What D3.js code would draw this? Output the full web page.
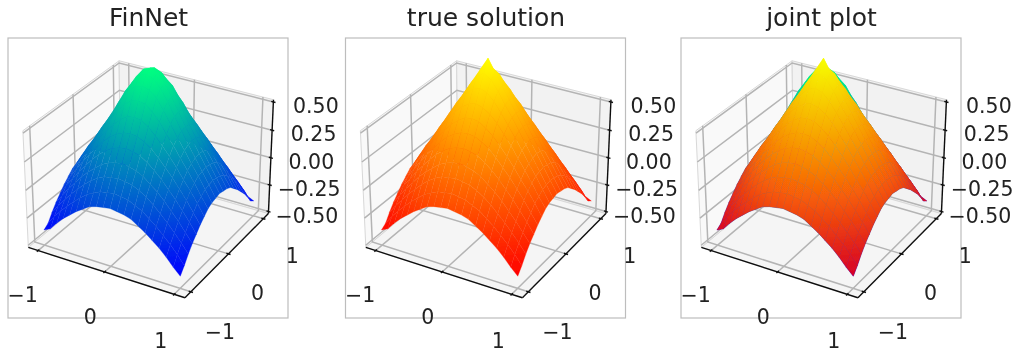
<!DOCTYPE html>
<html>
<head>
<meta charset="utf-8">
<script src="https://cdn.jsdelivr.net/npm/d3@7"></script>
<style>
  body { margin: 0; background: #fff; }
  text { font-family: "DejaVu Sans", sans-serif; fill: #222; }
</style>
</head>
<body>
<div id="chart"></div>
<script>
const gridX = [-1, -0.9, -0.8, -0.7, -0.6, -0.5, -0.4, -0.3, -0.2, -0.1, 0, 0.1, 0.2, 0.3, 0.4, 0.5, 0.6, 0.7, 0.8, 0.9, 1];
const gridY = [-1, -0.9, -0.8, -0.7, -0.6, -0.5, -0.4, -0.3, -0.2, -0.1, 0, 0.1, 0.2, 0.3, 0.4, 0.5, 0.6, 0.7, 0.8, 0.9, 1];

const trueZ = [
  [-.38,-.35,-.28,-.22,-.17,-.12,-.08,-.04,-.02,-.01,0,-.01,-.02,-.04,-.08,-.12,-.17,-.22,-.28,-.35,-.41],
  [-.35,-.27,-.20,-.14,-.08,-.03,.02,.05,.08,.09,.10,.09,.08,.05,.02,-.03,-.08,-.14,-.20,-.27,-.35],
  [-.28,-.20,-.13,-.06,0,.06,.11,.15,.18,.19,.20,.19,.18,.15,.11,.06,0,-.06,-.13,-.20,-.28],
  [-.22,-.14,-.06,.01,.08,.14,.19,.24,.27,.29,.30,.29,.27,.24,.19,.14,.08,.01,-.06,-.14,-.22],
  [-.17,-.08,0,.08,.15,.22,.28,.33,.37,.39,.40,.39,.37,.33,.28,.22,.15,.08,0,-.08,-.17],
  [-.12,-.03,.06,.14,.22,.29,.36,.42,.46,.49,.50,.49,.46,.42,.36,.29,.22,.14,.06,-.03,-.12],
  [-.08,.02,.11,.19,.28,.36,.43,.50,.55,.59,.60,.59,.55,.50,.43,.36,.28,.19,.11,.02,-.08],
  [-.04,.05,.15,.24,.33,.42,.50,.58,.64,.68,.70,.68,.64,.58,.50,.42,.33,.24,.15,.05,-.04],
  [-.02,.08,.18,.27,.37,.46,.55,.64,.72,.78,.80,.78,.72,.64,.55,.46,.37,.27,.18,.08,-.02],
  [-.01,.09,.19,.29,.39,.49,.59,.68,.78,.86,.90,.86,.78,.68,.59,.49,.39,.29,.19,.09,-.01],
  [0,.10,.20,.30,.40,.50,.60,.70,.80,.90,1,.90,.80,.70,.60,.50,.40,.30,.20,.10,0],
  [-.01,.09,.19,.29,.39,.49,.59,.68,.78,.86,.90,.86,.78,.68,.59,.49,.39,.29,.19,.09,-.01],
  [-.02,.08,.18,.27,.37,.46,.55,.64,.72,.78,.80,.78,.72,.64,.55,.46,.37,.27,.18,.08,-.02],
  [-.04,.05,.15,.24,.33,.42,.50,.58,.64,.68,.70,.68,.64,.58,.50,.42,.33,.24,.15,.05,-.04],
  [-.08,.02,.11,.19,.28,.36,.43,.50,.55,.59,.60,.59,.55,.50,.43,.36,.28,.19,.11,.02,-.08],
  [-.12,-.03,.06,.14,.22,.29,.36,.42,.46,.49,.50,.49,.46,.42,.36,.29,.22,.14,.06,-.03,-.12],
  [-.17,-.08,0,.08,.15,.22,.28,.33,.37,.39,.40,.39,.37,.33,.28,.22,.15,.08,0,-.08,-.17],
  [-.22,-.14,-.06,.01,.08,.14,.19,.24,.27,.29,.30,.29,.27,.24,.19,.14,.08,.01,-.06,-.14,-.22],
  [-.28,-.20,-.13,-.06,0,.06,.11,.15,.18,.19,.20,.19,.18,.15,.11,.06,0,-.06,-.13,-.20,-.28],
  [-.35,-.27,-.20,-.14,-.08,-.03,.02,.05,.08,.09,.10,.09,.08,.05,.02,-.03,-.08,-.14,-.20,-.27,-.35],
  [-.41,-.35,-.28,-.22,-.17,-.12,-.08,-.04,-.02,-.01,0,-.01,-.02,-.04,-.08,-.12,-.17,-.22,-.28,-.35,-.38]
];

// same as trueZ away from the centre, the network rounds the tip off
const finnetZ = [
  [-.38,-.35,-.28,-.22,-.17,-.12,-.08,-.04,-.02,-.01,0,-.01,-.02,-.04,-.08,-.12,-.17,-.22,-.28,-.35,-.41],
  [-.35,-.27,-.20,-.14,-.08,-.03,.02,.05,.08,.09,.10,.09,.08,.05,.02,-.03,-.08,-.14,-.20,-.27,-.35],
  [-.28,-.20,-.13,-.06,0,.06,.11,.15,.18,.19,.20,.19,.18,.15,.11,.06,0,-.06,-.13,-.20,-.28],
  [-.22,-.14,-.06,.01,.08,.14,.19,.24,.27,.29,.30,.29,.27,.24,.19,.14,.08,.01,-.06,-.14,-.22],
  [-.17,-.08,0,.08,.15,.22,.28,.33,.37,.39,.40,.39,.37,.33,.28,.22,.15,.08,0,-.08,-.17],
  [-.12,-.03,.06,.14,.22,.29,.36,.42,.46,.49,.50,.49,.46,.42,.36,.29,.22,.14,.06,-.03,-.12],
  [-.08,.02,.11,.19,.28,.36,.43,.50,.56,.60,.61,.60,.56,.50,.43,.36,.28,.19,.11,.02,-.08],
  [-.04,.05,.15,.24,.33,.42,.50,.59,.66,.71,.72,.71,.66,.59,.50,.42,.33,.24,.15,.05,-.04],
  [-.02,.08,.18,.27,.37,.46,.56,.66,.75,.80,.82,.80,.75,.66,.56,.46,.37,.27,.18,.08,-.02],
  [-.01,.09,.19,.29,.39,.49,.60,.71,.80,.87,.895,.87,.80,.71,.60,.49,.39,.29,.19,.09,-.01],
  [0,.10,.20,.30,.40,.50,.61,.72,.82,.895,.92,.895,.82,.72,.61,.50,.40,.30,.20,.10,0],
  [-.01,.09,.19,.29,.39,.49,.60,.71,.80,.87,.895,.87,.80,.71,.60,.49,.39,.29,.19,.09,-.01],
  [-.02,.08,.18,.27,.37,.46,.56,.66,.75,.80,.82,.80,.75,.66,.56,.46,.37,.27,.18,.08,-.02],
  [-.04,.05,.15,.24,.33,.42,.50,.59,.66,.71,.72,.71,.66,.59,.50,.42,.33,.24,.15,.05,-.04],
  [-.08,.02,.11,.19,.28,.36,.43,.50,.56,.60,.61,.60,.56,.50,.43,.36,.28,.19,.11,.02,-.08],
  [-.12,-.03,.06,.14,.22,.29,.36,.42,.46,.49,.50,.49,.46,.42,.36,.29,.22,.14,.06,-.03,-.12],
  [-.17,-.08,0,.08,.15,.22,.28,.33,.37,.39,.40,.39,.37,.33,.28,.22,.15,.08,0,-.08,-.17],
  [-.22,-.14,-.06,.01,.08,.14,.19,.24,.27,.29,.30,.29,.27,.24,.19,.14,.08,.01,-.06,-.14,-.22],
  [-.28,-.20,-.13,-.06,0,.06,.11,.15,.18,.19,.20,.19,.18,.15,.11,.06,0,-.06,-.13,-.20,-.28],
  [-.35,-.27,-.20,-.14,-.08,-.03,.02,.05,.08,.09,.10,.09,.08,.05,.02,-.03,-.08,-.14,-.20,-.27,-.35],
  [-.41,-.35,-.28,-.22,-.17,-.12,-.08,-.04,-.02,-.01,0,-.01,-.02,-.04,-.08,-.12,-.17,-.22,-.28,-.35,-.38]
];

const titles = ["FinNet", "true solution", "joint plot"];
const xyTicks = [-1, 0, 1];
const zTicks = [-0.5, -0.25, 0, 0.25, 0.5];

const svgWidth = 1022, svgHeight = 353;
const frameLeft = [8, 345.5, 681];
const frameTop = 38, frameSize = 280;

const xyLim = 1.15, zLim = 0.52;

// view matrix for elev 30, azim -60, camera 10 away
const dist = 10;
const viewU = [0.866, 0.5, 0];
const viewV = [-0.25, 0.433, 0.866];
const viewN = [0.433, -0.75, 0.5];

const worldXY = d3.scaleLinear().domain([-xyLim, xyLim]).range([-0.5715, 0.5715]);
const worldZ = d3.scaleLinear().domain([-zLim, zLim]).range([-0.4285, 0.4285]);

const dot = (a, b) => a[0] * b[0] + a[1] * b[1] + a[2] * b[2];

function project(x, y, z) {
  const p = [worldXY(x), worldXY(y), worldZ(z)];
  const depth = dot(p, viewN);
  const f = dist / (dist - depth);
  return { u: dot(p, viewU) * f, v: dot(p, viewV) * f, depth };
}

const winter = d3.scaleLinear().domain(d3.extent(finnetZ.flat())).range(["#0000ff", "#00ff80"]);
const autumn = d3.scaleLinear().domain(d3.extent(trueZ.flat())).range(["#ff0000", "#ffff00"]);

// joint plot: true surface over the network one, more of the blue comes through low down
const jointAlpha = d3.scaleLinear().domain([-0.41, 0.1]).range([0.84, 0.97]).clamp(true);
const jointColor = z => d3.interpolateRgb(winter(z), autumn(z))(jointAlpha(z));

const svg = d3.select("#chart").append("svg")
  .attr("width", svgWidth)
  .attr("height", svgHeight)
  .style("display", "block");

svg.append("defs").append("filter")
  .attr("id", "soft")
  .attr("filterUnits", "userSpaceOnUse")
  .attr("x", 0).attr("y", 0)
  .attr("width", svgWidth).attr("height", svgHeight)
  .append("feGaussianBlur")
  .attr("stdDeviation", 0.7);

const root = svg.append("g").attr("filter", "url(#soft)");

function buildCells(table, color) {
  const cells = [];
  for (let j = 0; j < gridY.length - 1; j++) {
    for (let i = 0; i < gridX.length - 1; i++) {
      const corners = [[i, j], [i + 1, j], [i + 1, j + 1], [i, j + 1]]
        .map(([a, b]) => [gridX[a], gridY[b], table[b][a]]);
      cells.push({
        corners,
        color,
        lo: d3.least(corners, c => c[2]),
        hi: d3.greatest(corners, c => c[2]),
        depth: d3.mean(corners, c => project(c[0], c[1], c[2]).depth)
      });
    }
  }
  return cells.sort((a, b) => a.depth - b.depth);
}

function drawPanel(index, layers) {
  const left = frameLeft[index];
  const cx = left + 142.5, cy = 173.8;
  const sx = d3.scaleLinear().domain([-1, 1]).range([cx - 157, cx + 157]);
  const sy = d3.scaleLinear().domain([-1, 1]).range([cy + 155.3, cy - 155.3]);

  const pt = (x, y, z) => {
    const p = project(x, y, z);
    return [sx(p.u), sy(p.v)];
  };
  const line = d3.line();

  const g = root.append("g");

  g.append("rect")
    .attr("x", left).attr("y", frameTop)
    .attr("width", frameSize).attr("height", frameSize)
    .attr("fill", "#fff")
    .attr("stroke", "#bdbdbd")
    .attr("stroke-width", 1.2);

  g.append("text")
    .attr("x", left + 140.5)
    .attr("y", 25.5)
    .attr("text-anchor", "middle")
    .style("font-size", "25px")
    .text(titles[index]);

  // panes
  const L = xyLim, Z = zLim;
  const panes = [
    { fill: "#f9f9f9", pts: [[-L, -L, -Z], [-L, L, -Z], [-L, L, Z], [-L, -L, Z]] },
    { fill: "#f2f2f2", pts: [[-L, L, -Z], [L, L, -Z], [L, L, Z], [-L, L, Z]] },
    { fill: "#f5f5f5", pts: [[-L, -L, -Z], [L, -L, -Z], [L, L, -Z], [-L, L, -Z]] }
  ];
  g.selectAll(".pane").data(panes).join("path")
    .attr("class", "pane")
    .attr("d", d => line(d.pts.map(c => pt(...c))) + "Z")
    .attr("fill", d => d.fill)
    .attr("stroke", "#d8d8d8")
    .attr("stroke-width", 1);

  // grid lines on the panes
  const gridLines = [];
  xyTicks.forEach(t => {
    gridLines.push([[t, -L, -Z], [t, L, -Z], [t, L, Z]]);
    gridLines.push([[L, t, -Z], [-L, t, -Z], [-L, t, Z]]);
  });
  zTicks.forEach(t => {
    gridLines.push([[-L, -L, t], [-L, L, t], [L, L, t]]);
  });
  g.selectAll(".grid").data(gridLines).join("path")
    .attr("class", "grid")
    .attr("d", d => line(d.map(c => pt(...c))))
    .attr("fill", "none")
    .attr("stroke", "#b4b4b4")
    .attr("stroke-width", 1.5);

  // axis lines and ticks
  const axisLines = [
    [[-L, -L, -Z], [L, -L, -Z]],
    [[L, -L, -Z], [L, L, -Z]],
    [[L, L, -Z], [L, L, Z]]
  ];
  xyTicks.forEach(t => {
    axisLines.push([[t, -L + 0.03, -Z], [t, -L - 0.03, -Z]]);
    axisLines.push([[L - 0.03, t, -Z], [L + 0.03, t, -Z]]);
  });
  zTicks.forEach(t => {
    axisLines.push([[L - 0.03, L, t], [L + 0.03, L, t]]);
  });
  g.selectAll(".axis").data(axisLines).join("path")
    .attr("class", "axis")
    .attr("d", d => line(d.map(c => pt(...c))))
    .attr("fill", "none")
    .attr("stroke", "#111")
    .attr("stroke-width", 1.4);

  const fmtXY = d3.format("d");
  const fmtZ = d3.format(".2f");
  const tickLabels = [];
  xyTicks.forEach(t => {
    const a = pt(t, -L, -Z);
    tickLabels.push({ x: a[0] - 14.5 + t, y: a[1] + 45 + t, label: fmtXY(t).replace("-", "−") });
    const b = pt(L, t, -Z);
    tickLabels.push({ x: b[0] + 29, y: b[1] + 38.5 - t, label: fmtXY(t).replace("-", "−") });
  });
  zTicks.forEach(t => {
    const c = pt(L, L, t);
    tickLabels.push({ x: c[0] + 40.5 + 4 * t, y: c[1] + 4, label: fmtZ(t).replace("-", "−") });
  });
  g.selectAll(".tick-label").data(tickLabels).join("text")
    .attr("class", "tick-label")
    .attr("x", d => d.x)
    .attr("y", d => d.y)
    .attr("dy", "0.35em")
    .attr("text-anchor", "middle")
    .style("font-size", "20.5px")
    .text(d => d.label);

  // surface facets, far ones first, one group per surface
  layers.forEach((layer, k) => {
    const cells = buildCells(layer.table, layer.color);
    cells.forEach((d, i) => { d.id = `facet-${index}-${k}-${i}`; });

    const gradients = g.append("defs").selectAll("linearGradient").data(cells).join("linearGradient")
      .attr("id", d => d.id)
      .attr("gradientUnits", "userSpaceOnUse")
      .attr("x1", d => pt(...d.lo)[0])
      .attr("y1", d => pt(...d.lo)[1])
      .attr("x2", d => pt(...d.hi)[0])
      .attr("y2", d => pt(...d.hi)[1]);
    gradients.append("stop").attr("offset", 0).attr("stop-color", d => d.color(d.lo[2]));
    gradients.append("stop").attr("offset", 1).attr("stop-color", d => d.color(d.hi[2]));

    g.append("g").selectAll("path").data(cells).join("path")
      .attr("d", d => line(d.corners.map(c => pt(...c))) + "Z")
      .attr("fill", d => `url(#${d.id})`)
      .attr("stroke", d => `url(#${d.id})`)
      .attr("stroke-width", 0.3);
  });
}

drawPanel(0, [{ table: finnetZ, color: winter }]);
drawPanel(1, [{ table: trueZ, color: autumn }]);
drawPanel(2, [
  { table: finnetZ, color: winter },
  { table: trueZ, color: jointColor }
]);
</script>
</body>
</html>
